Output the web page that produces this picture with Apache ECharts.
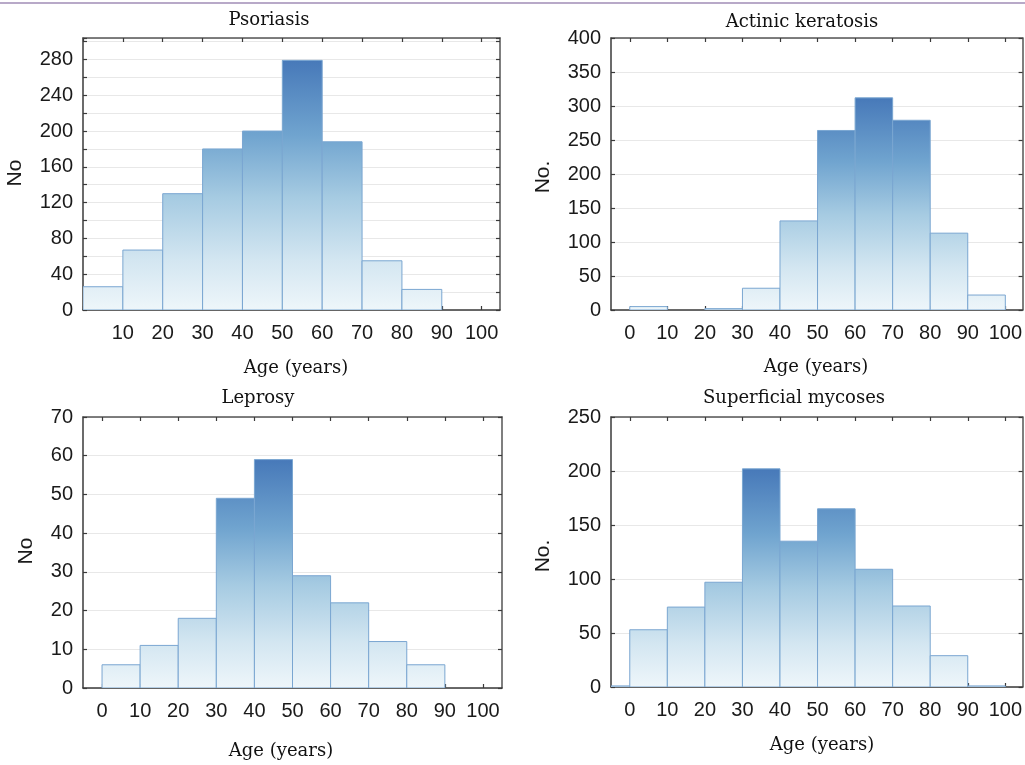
<!DOCTYPE html>
<html>
<head>
<meta charset="utf-8">
<script src="https://cdn.jsdelivr.net/npm/echarts@6/dist/echarts.min.js"></script>
<style>
html,body{margin:0;padding:0;background:#fff;}
#c{width:1025px;height:765px;}
</style>
</head>
<body>
<div id="c"></div>
<script>
// ---- data ----
const titles = ['Psoriasis', 'Actinic keratosis', 'Leprosy', 'Superficial mycoses'];
const yNames = ['No', 'No.', 'No', 'No.'];
const xName = 'Age (years)';
const xTicks = [0, 10, 20, 30, 40, 50, 60, 70, 80, 90, 100];

const psoriasisStarts = [0, 10, 20, 30, 40, 50, 60, 70, 80, 90];
const psoriasisCounts = [26, 67, 130, 180, 200, 279, 188, 55, 23, 0];

const actinicStarts = [0, 10, 20, 30, 40, 50, 60, 70, 80, 90];
const actinicCounts = [5, 0, 2, 32, 131, 264, 312, 279, 113, 22];

const leprosyStarts = [0, 10, 20, 30, 40, 50, 60, 70, 80, 90];
const leprosyCounts = [6, 11, 18, 49, 59, 29, 22, 12, 6, 0];

const mycosesStarts = [-10, 0, 10, 20, 30, 40, 50, 60, 70, 80, 90];
const mycosesCounts = [1, 53, 74, 97, 202, 135, 165, 109, 75, 29, 1];

const binWidth = 10;

// ---- layout ----
const panels = [
  { starts: psoriasisStarts, counts: psoriasisCounts, grid: {left: 83, top: 38, width: 417, height: 272},
    xMin: 0, xMax: 104.6, yMax: 304, yInt: 20, yLabelStep: 40, xLabels: xTicks.slice(1),
    title: [269, 20], xn: [296, 368], yn: [15, 173] },
  { starts: actinicStarts, counts: actinicCounts, grid: {left: 611, top: 38, width: 412, height: 272},
    xMin: -5, xMax: 104.6, yMax: 400, yInt: 50, yLabelStep: 50, xLabels: xTicks,
    title: [802, 22], xn: [816, 367], yn: [543, 177] },
  { starts: leprosyStarts, counts: leprosyCounts, grid: {left: 83, top: 417, width: 419, height: 271},
    xMin: -5, xMax: 105, yMax: 70, yInt: 10, yLabelStep: 10, xLabels: xTicks,
    title: [258, 398], xn: [281, 751], yn: [26, 551] },
  { starts: mycosesStarts, counts: mycosesCounts, grid: {left: 611, top: 417, width: 412, height: 270},
    xMin: -5, xMax: 104.6, yMax: 250, yInt: 50, yLabelStep: 50, xLabels: xTicks,
    title: [794, 398], xn: [822, 745], yn: [543, 556] }
];

const axisColor = '#3a3a3a';
const labelColor = '#1a1a1a';
const stops = [
  {offset: 0, color: '#4779b9'},
  {offset: 0.3, color: '#70a4cf'},
  {offset: 0.55, color: '#a6cbe2'},
  {offset: 0.8, color: '#d3e6f1'},
  {offset: 1, color: '#eef6fa'}
];

const grids = [], xAxes = [], yAxes = [], series = [], graphics = [];

panels.forEach((p, i) => {
  grids.push(Object.assign({containLabel: false}, p.grid));
  const maxV = Math.max.apply(null, p.counts);
  xAxes.push({
    type: 'value', gridIndex: i, min: p.xMin, max: p.xMax, position: 'bottom',
    axisLine: {show: true, onZero: false, lineStyle: {color: axisColor, width: 1.5}},
    axisTick: {show: true, inside: true, length: 4, customValues: xTicks, lineStyle: {color: axisColor, width: 1.2}},
    axisLabel: {show: true, customValues: p.xLabels, margin: 13, color: labelColor,
                fontFamily: 'Liberation Sans', fontSize: 20},
    splitLine: {show: false}
  });
  xAxes.push({
    type: 'value', gridIndex: i, min: p.xMin, max: p.xMax, position: 'top',
    axisLine: {show: true, onZero: false, lineStyle: {color: '#555', width: 1.5}},
    axisTick: {show: true, inside: true, length: 4, customValues: xTicks, lineStyle: {color: axisColor, width: 1.2}},
    axisLabel: {show: false}, splitLine: {show: false}
  });
  yAxes.push({
    type: 'value', gridIndex: i, min: 0, max: p.yMax, interval: p.yInt, position: 'left',
    axisLine: {show: true, onZero: false, lineStyle: {color: axisColor, width: 1.5}},
    axisTick: {show: true, inside: true, length: 4, lineStyle: {color: axisColor, width: 1.2}},
    axisLabel: {show: true, margin: 10, color: labelColor, fontFamily: 'Liberation Sans', fontSize: 20,
                formatter: v => (v % p.yLabelStep === 0 && v <= p.yMax) ? String(v) : ''},
    splitLine: {show: true, lineStyle: {color: '#e8e8e8', width: 1}}
  });
  yAxes.push({
    type: 'value', gridIndex: i, min: 0, max: p.yMax, interval: p.yInt, position: 'right',
    axisLine: {show: true, onZero: false, lineStyle: {color: '#555', width: 1.5}},
    axisTick: {show: true, inside: true, length: 4, lineStyle: {color: axisColor, width: 1.2}},
    axisLabel: {show: false}, splitLine: {show: false}
  });

  const data = p.starts.map((s, k) => [s, s + binWidth, p.counts[k]]);
  series.push({
    type: 'custom', xAxisIndex: i * 2, yAxisIndex: i * 2, clip: true,
    encode: {x: [0, 1], y: 2},
    data: data,
    z: 1,
    renderItem: function (params, api) {
      const x0 = api.value(0), x1 = api.value(1), v = api.value(2);
      if (!(v > 0)) return null;
      const pTop = api.coord([x0, v]);
      const pBot = api.coord([x1, 0]);
      const gTop = api.coord([x0, maxV])[1];
      return {
        type: 'rect',
        shape: {x: pTop[0], y: pTop[1], width: pBot[0] - pTop[0], height: pBot[1] - pTop[1]},
        style: {
          fill: {type: 'linear', x: 0, y: gTop, x2: 0, y2: pBot[1], global: true, colorStops: stops},
          stroke: '#7aa6d1', lineWidth: 1
        }
      };
    }
  });

  graphics.push({
    type: 'text', x: p.title[0], y: p.title[1],
    style: {text: titles[i], font: '18px "DejaVu Serif"', fill: '#111', align: 'center', verticalAlign: 'middle'}
  });
  graphics.push({
    type: 'text', x: p.xn[0], y: p.xn[1],
    style: {text: xName, font: '18px "DejaVu Serif"', fill: '#111', align: 'center', verticalAlign: 'middle'}
  });
  graphics.push({
    type: 'text', x: p.yn[0], y: p.yn[1], rotation: Math.PI / 2,
    style: {text: yNames[i], font: '21px "Liberation Sans"', fill: '#1a1a1a', align: 'center', verticalAlign: 'middle'}
  });
});

graphics.push({
  type: 'line', shape: {x1: 0, y1: 3, x2: 1025, y2: 3},
  style: {stroke: '#a08cb6', lineWidth: 1.5}
});

const chart = echarts.init(document.getElementById('c'), null, {renderer: 'canvas'});
chart.setOption({
  animation: false,
  backgroundColor: '#fff',
  grid: grids,
  xAxis: xAxes,
  yAxis: yAxes,
  series: series,
  graphic: graphics
});
</script>
</body>
</html>
